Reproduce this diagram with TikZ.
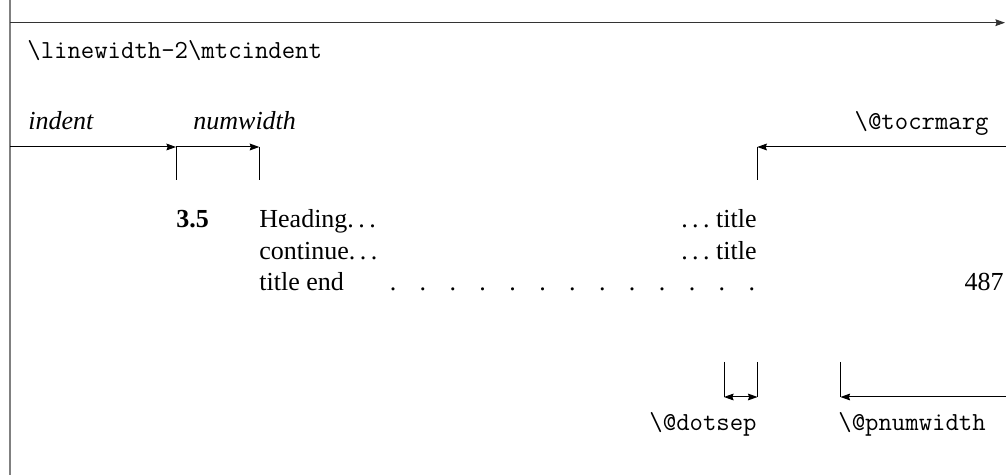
\documentclass[tikz,border=0pt]{standalone}
\usepackage{fontspec}
\setmainfont{Liberation Serif}
\setmonofont{Latin Modern Mono}
\usetikzlibrary{arrows.meta}
\newcommand\mydots{.\kern.17em.\kern.17em.}
\begin{document}
\begin{tikzpicture}[x=0.5pt,y=-0.5pt,
  tip/.style={},
  dimarrow/.style={line width=0.5pt,-{Stealth[length=4.8pt,width=3.4pt,inset=0.6pt]}},
  dimboth/.style={line width=0.5pt,{Stealth[length=4.8pt,width=3.4pt,inset=0.6pt]}-{Stealth[length=4.8pt,width=3.4pt,inset=0.6pt]}},
  tickline/.style={line width=0.5pt},
  serif/.style={font=\fontsize{13}{16}\selectfont,inner sep=0pt},
  mono/.style={font=\fontsize{13}{16}\selectfont\ttfamily,inner sep=0pt}]
\useasboundingbox (0,0) rectangle (1006,475);
% frame
\coordinate (lt) at (10,0);
\coordinate (lb) at (10,475);
\draw[gray,line width=0.85pt] (lt) -- (lb);
\coordinate (tl) at (10,22.7);
\coordinate (tr) at (1005,22.7);
\draw[dimarrow,black!80] (tl) -- (tr);
% top labels
\node[mono,anchor=base west] (lw) at (27,59) {\textbackslash linewidth-2\textbackslash mtcindent};
\node[serif,anchor=base west] (ind) at (28,130) {\textit{indent}};
\node[serif,anchor=base west] (nw) at (193,130) {\textit{numwidth}};
\node[mono,anchor=base east] (rm) at (989,130) {\textbackslash @tocrmarg};
% indent / numwidth arrows
\coordinate (a0) at (10,147);
\coordinate (a1) at (176,147);
\coordinate (a1b) at (176,180);
\coordinate (a2) at (259.3,147);
\coordinate (a2b) at (259.3,180);
\draw[dimarrow] (a0) -- (a1);
\draw[tickline] (a1b) -- (a1);
\draw[dimarrow] (a1) -- (a2);
\draw[tickline] (a2b) -- (a2);
% tocrmarg arrow
\coordinate (r0) at (1006,147);
\coordinate (r1) at (757.3,147);
\coordinate (r1b) at (757.3,180);
\draw[dimarrow] (r0) -- (r1);
\draw[tickline] (r1) -- (r1b);
% entry text
\node[serif,anchor=base west] (num) at (176,228) {\bfseries 3.5};
\node[serif,anchor=base west] (h1) at (259,228) {Heading\mydots};
\node[serif,anchor=base east] (t1) at (757,228) {\mydots\ title};
\node[serif,anchor=base west] (h2) at (259,260) {continue\mydots};
\node[serif,anchor=base east] (t2) at (757,260) {\mydots\ title};
\node[serif,anchor=base west] (h3) at (259,291) {title end};
\foreach \i in {0,...,12}
  \node[serif,anchor=base] (d\i) at ({393+29.9*\i},291) {.};
\node[serif,anchor=base east] (pg) at (1004,291) {487};
% dotsep
\coordinate (b1t) at (724,362);
\coordinate (b1) at (724,397);
\coordinate (b2t) at (757.5,362);
\coordinate (b2) at (757.5,397);
\draw[tickline] (b1t) -- (b1);
\draw[tickline] (b2t) -- (b2);
\draw[dimboth] (b1) -- (b2);
% pnumwidth
\coordinate (p1t) at (840.5,362);
\coordinate (p1) at (840.5,397);
\coordinate (p0) at (1006,397);
\draw[tickline] (p1t) -- (p1);
\draw[dimarrow] (p0) -- (p1);
\node[mono,anchor=base east] (ds) at (757,430) {\textbackslash @dotsep};
\node[mono,anchor=base west] (pw) at (838,430) {\textbackslash @pnumwidth};
\end{tikzpicture}
\end{document}
